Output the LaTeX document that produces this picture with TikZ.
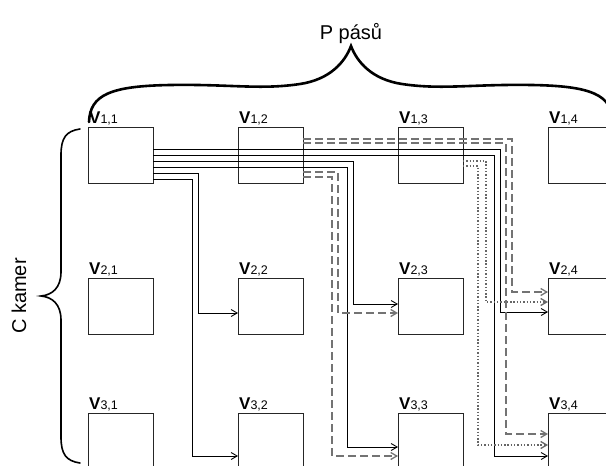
\documentclass[tikz,border=0pt]{standalone}
\usepackage{fontspec}
\setmainfont{Liberation Sans}
\usetikzlibrary{arrows.meta,calc}

\newcommand{\cam}[2]{{\bfseries\fontsize{17}{17}\selectfont V}{\fontsize{12.5}{12.5}\selectfont #1,#2}}
% style, source, offset down, target, turn x (from target west), offset down
\newcommand{\wire}[6]{\draw[#1] ($(#2.north east)+(0,#3)$) -| ($(#4.north west)+(#5,#6)$) -- ($(#4.north west)+(0,#6)$);}

\begin{document}
\begin{tikzpicture}[x=1pt,y=-1pt,
 box/.style={draw=black!85,line width=.9pt,minimum width=65pt,minimum height=56pt,inner sep=0pt,outer sep=0pt,anchor=north west},
 lbl/.style={anchor=base west,inner sep=0pt,xshift=1pt,yshift=4pt},
 sol/.style={line width=.9pt,-{Straight Barb[length=6pt,width=7pt]}},
 dsh/.style={sol,black!55,line width=1.3pt,dash pattern=on 8pt off 4pt},
 dot/.style={sol,black!60,line width=1.3pt,dash pattern=on 1.4pt off 1.9pt},
 ttl/.style={font=\fontsize{20}{20}\selectfont,inner sep=0pt}]
\useasboundingbox (0,0) rectangle (606,466);
\clip (0,0) rectangle (606,466);

\foreach \r/\y in {1/127,2/278,3/413}
 \foreach \c/\x in {1/88,2/238,3/398,4/548}
  \node[box,label={[lbl]north west:\cam{\r}{\c}}] (v\r\c) at (\x,\y) {};

% from V1,1
\wire{sol}{v11}{22}{v24}{-48}{34}
\wire{sol}{v11}{28}{v34}{-54}{43}
\wire{sol}{v11}{34}{v23}{-45}{26}
\wire{sol}{v11}{40}{v33}{-51}{34}
\wire{sol}{v11}{46}{v22}{-40}{35}
\wire{sol}{v11}{52}{v32}{-46}{43}
% from V1,2
\wire{dsh}{v12}{12}{v24}{-36}{14}
\wire{dsh}{v12}{16}{v34}{-42}{21}
\wire{dsh}{v12}{45}{v23}{-60}{35}
\wire{dsh}{v12}{50}{v33}{-66}{43}
% from V1,3
\wire{dot}{v13}{34}{v24}{-62}{24}
\wire{dot}{v13}{39}{v34}{-70}{32}

% braces
\draw[line width=2.6pt,line cap=round] (89,122) .. controls (90,95) and (110,86) .. (170,85)
 .. controls (230,84) and (260,90) .. (300,84) .. controls (330,79.5) and (345,62) .. (351,46)
 .. controls (357,62) and (372,79.5) .. (402,84) .. controls (442,90) and (472,84) .. (532,85)
 .. controls (592,86) and (612,95) .. (613,122);
\draw[line width=1.6pt,line cap=round] (80,129) .. controls (66,131) and (61,138) .. (61,155)
 -- (61,272) .. controls (61,288) and (52,295) .. (41,296) .. controls (52,297) and (61,304) .. (61,320)
 -- (61,437) .. controls (61,454) and (66,461) .. (80,463);

\node[ttl,anchor=base] (pasy) at (351,39) {P pásů};
\node[ttl,rotate=90] (kamery) at (19,296) {C kamer};
\end{tikzpicture}
\end{document}
